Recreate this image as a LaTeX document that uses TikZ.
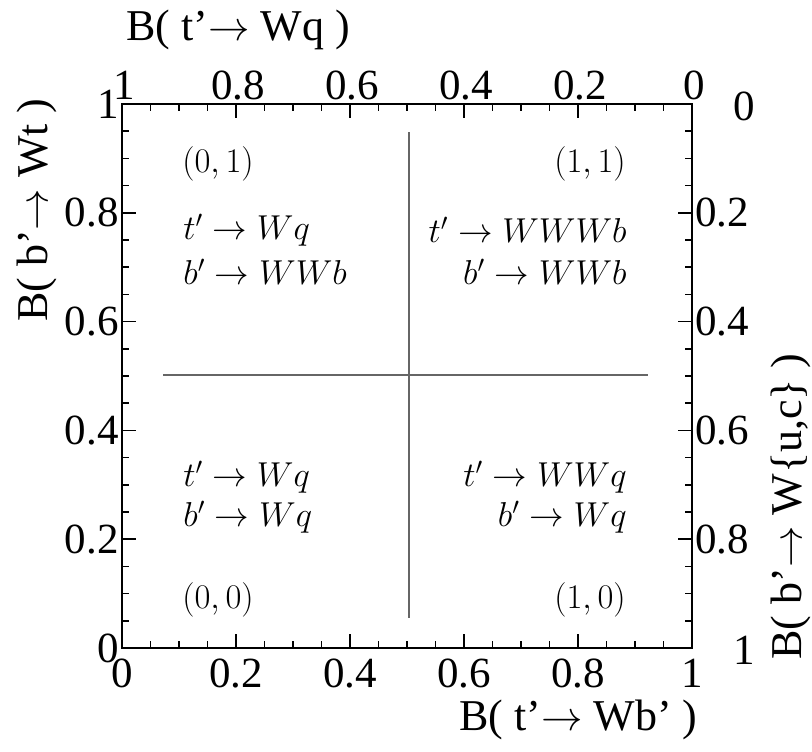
\documentclass[tikz,border=0pt]{standalone}
\usepackage{fontspec}
\setmainfont{Liberation Serif}
\begin{document}
\begin{tikzpicture}[x=0.5pt,y=-0.5pt,
  numlab/.style={inner sep=0pt,font=\fontsize{21.5}{24}\selectfont},
  axtitle/.style={inner sep=0pt,font=\fontsize{22}{26}\selectfont},
  quadtxt/.style={inner sep=0pt,font=\fontsize{18}{21}\selectfont},
  frameline/.style={line width=1.2pt,black},
  tickline/.style={line width=0.8pt,black},
  crossline/.style={line width=1pt,black!60}]
\useasboundingbox (0,0) rectangle (812,751);
% frame
\coordinate (fsw) at (122,648);
\coordinate (fne) at (692,104);
% ticks
\foreach \i in {0,...,20}{
  \pgfmathsetmacro\xx{122+28.5*\i}
  \pgfmathsetmacro\yy{648-27.2*\i}
  \draw[tickline] (\xx,648) -- (\xx,641);
  \draw[tickline] (\xx,104) -- (\xx,111);
  \draw[tickline] (122,\yy) -- (129,\yy);
  \draw[tickline] (692,\yy) -- (685,\yy);
}
\foreach \i in {0,...,5}{
  \pgfmathsetmacro\xx{122+114*\i}
  \pgfmathsetmacro\yy{648-108.8*\i}
  \draw[tickline] (\xx,648) -- (\xx,634);
  \draw[tickline] (\xx,104) -- (\xx,118);
  \draw[tickline] (122,\yy) -- (136,\yy);
  \draw[tickline] (692,\yy) -- (678,\yy);
}
\draw[frameline] (fsw) rectangle (fne);
% bottom labels
\foreach \v/\t [count=\k] in {0/0,1/0.2,2/0.4,3/0.6,4/0.8,5/1}{
  \node[numlab] (bl\k) at (122+114*\v,673) {\t};
}
% top labels
\foreach \v/\t [count=\k] in {0/1,1/0.8,2/0.6,3/0.4,4/0.2,5/0}{
  \node[numlab] (tl\k) at (124+114*\v,85) {\t};
}
% left labels
\foreach \v/\t [count=\k] in {0/0,1/0.2,2/0.4,3/0.6,4/0.8,5/1}{
  \node[numlab,anchor=east] (ll\k) at (119,648-108.8*\v) {\t};
}
% right labels
\foreach \v/\t [count=\k] in {1/0.2,2/0.4,3/0.6,4/0.8}{
  \node[numlab,anchor=west] (rl\k) at (695,104+108.8*\v) {\t};
}
\node[numlab] (rl0) at (744,106) {0};
\node[numlab] (rl5) at (744,650) {1};
% axis titles
\node[axtitle,anchor=west] (ttop) at (126,30) {B( t'$\rightarrow$ Wq )};
\node[axtitle,anchor=east] (tbot) at (698,720) {B( t'$\rightarrow$ Wb' )};
\node[axtitle,anchor=east,rotate=90] (tleft) at (37,98) {B( b'$\rightarrow$ Wt )};
\node[axtitle,anchor=west,rotate=90] (tright) at (791,660) {B( b'$\rightarrow$ W\{u,c\} )};
% cross lines
\coordinate (vtop) at (409,132);
\coordinate (vbot) at (409,618);
\coordinate (hl) at (163,375);
\coordinate (hr) at (648,375);
\draw[crossline] (vtop) -- (vbot);
\draw[crossline] (hl) -- (hr);
% quadrant texts
\node[quadtxt,anchor=west] (q01) at (182,164) {$(0,1)$};
\node[quadtxt,anchor=east] (q11) at (626,164) {$(1,1)$};
\node[quadtxt,anchor=west] (q00) at (182,600) {$(0,0)$};
\node[quadtxt,anchor=east] (q10) at (626,600) {$(1,0)$};
\node[quadtxt,anchor=west] (a1) at (183,230) {$t'\rightarrow Wq$};
\node[quadtxt,anchor=west] (a2) at (183,272) {$b'\rightarrow WWb$};
\node[quadtxt,anchor=east] (b1) at (627,230) {$t'\rightarrow WWWb$};
\node[quadtxt,anchor=east] (b2) at (627,272) {$b'\rightarrow WWb$};
\node[quadtxt,anchor=west] (c1) at (183,477) {$t'\rightarrow Wq$};
\node[quadtxt,anchor=west] (c2) at (183,517) {$b'\rightarrow Wq$};
\node[quadtxt,anchor=east] (d1) at (627,477) {$t'\rightarrow WWq$};
\node[quadtxt,anchor=east] (d2) at (627,517) {$b'\rightarrow Wq$};
\end{tikzpicture}
\end{document}
